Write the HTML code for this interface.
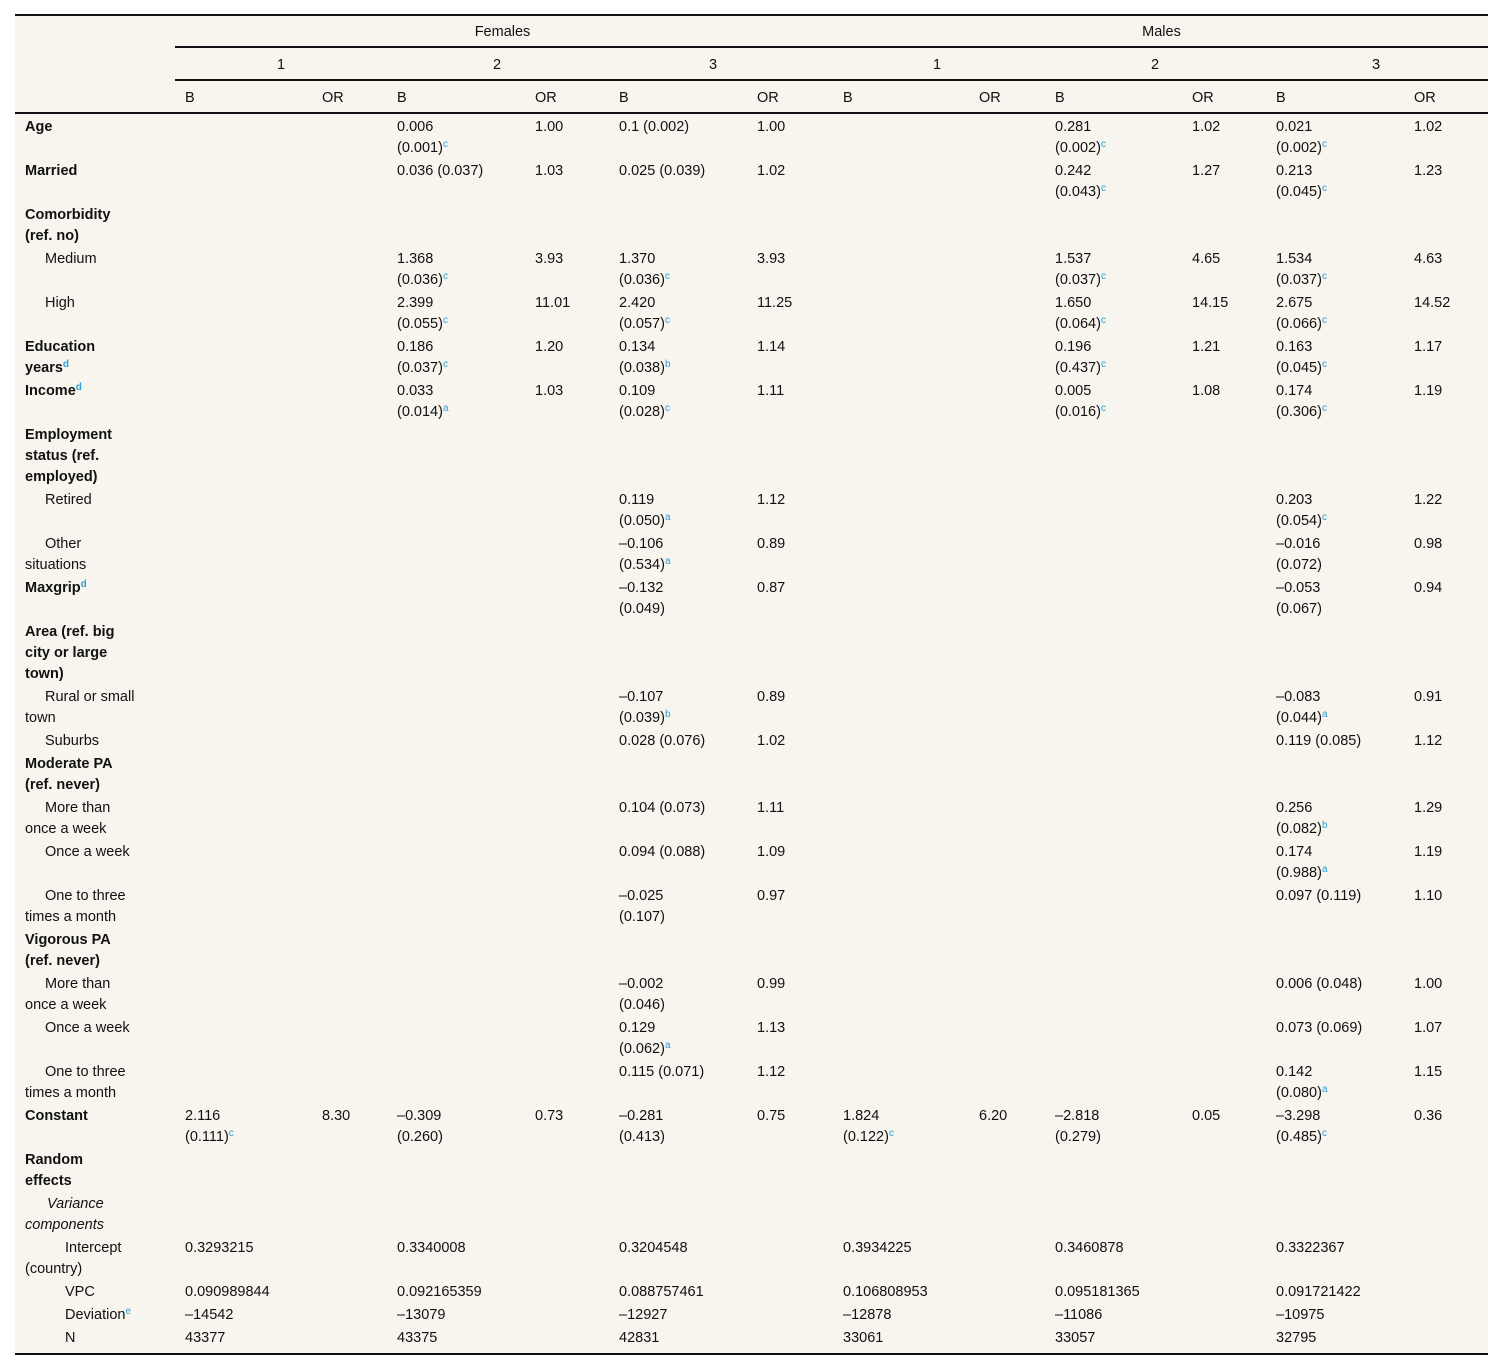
<!DOCTYPE html>
<html><head><meta charset="utf-8">
<style>
html,body{margin:0;padding:0;background:#fff;}
body{width:1488px;height:1370px;position:relative;overflow:hidden;font-family:"Liberation Sans",Arial,sans-serif;font-size:14.5px;color:#111;}
#bg{position:absolute;left:15px;top:15px;width:1473px;height:1339px;background:#f8f5ef;}
.ln{position:absolute;height:1.5px;background:#111;}
.c{position:absolute;line-height:21px;white-space:nowrap;}
.lab{position:absolute;left:25px;width:135px;line-height:21px;white-space:normal;}
.b{font-weight:bold;}
.i1{text-indent:20px;}
.i2{text-indent:40px;}
.it{font-style:italic;text-indent:22px;}
sup{color:#2a9fd8;font-size:10px;vertical-align:5px;line-height:0;}
.hc{position:absolute;line-height:21px;text-align:center;}
</style></head>
<body>
<div id="bg"></div>
<div class="ln" style="left:15px;top:14px;width:1473px"></div>
<div class="ln" style="left:175px;top:46px;width:1313px"></div>
<div class="ln" style="left:175px;top:79px;width:1313px"></div>
<div class="ln" style="left:15px;top:112px;width:1473px"></div>
<div class="ln" style="left:15px;top:1353px;width:1473px"></div>

<div class="hc" style="left:175px;width:655px;top:22px">Females</div>
<div class="hc" style="left:835px;width:653px;top:22px">Males</div>
<div id="root"></div>
<script>
const colX=[185,322,397,535,619,757,843,979,1055,1192,1276,1414];
const modelCenters=[281,497,713,937,1155,1376];
const modelLabels=['1','2','3','1','2','3'];
const rows=[
[126,'Age','b',['','','0.006|(0.001)^c','1.00','0.1 (0.002)','1.00','','','0.281|(0.002)^c','1.02','0.021|(0.002)^c','1.02']],
[170,'Married','b',['','','0.036 (0.037)','1.03','0.025 (0.039)','1.02','','','0.242|(0.043)^c','1.27','0.213|(0.045)^c','1.23']],
[214,'Comorbidity|(ref. no)','b',[]],
[258,'Medium','i1',['','','1.368|(0.036)^c','3.93','1.370|(0.036)^c','3.93','','','1.537|(0.037)^c','4.65','1.534|(0.037)^c','4.63']],
[302,'High','i1',['','','2.399|(0.055)^c','11.01','2.420|(0.057)^c','11.25','','','1.650|(0.064)^c','14.15','2.675|(0.066)^c','14.52']],
[346,'Education|years^d','b',['','','0.186|(0.037)^c','1.20','0.134|(0.038)^b','1.14','','','0.196|(0.437)^c','1.21','0.163|(0.045)^c','1.17']],
[390,'Income^d','b',['','','0.033|(0.014)^a','1.03','0.109|(0.028)^c','1.11','','','0.005|(0.016)^c','1.08','0.174|(0.306)^c','1.19']],
[434,'Employment|status (ref.|employed)','b',[]],
[499,'Retired','i1',['','','','','0.119|(0.050)^a','1.12','','','','','0.203|(0.054)^c','1.22']],
[543,'Other|situations','i1',['','','','','\u20130.106|(0.534)^a','0.89','','','','','\u20130.016|(0.072)','0.98']],
[587,'Maxgrip^d','b',['','','','','\u20130.132|(0.049)','0.87','','','','','\u20130.053|(0.067)','0.94']],
[631,'Area (ref. big|city or large|town)','b',[]],
[696,'Rural or small|town','i1',['','','','','\u20130.107|(0.039)^b','0.89','','','','','\u20130.083|(0.044)^a','0.91']],
[740,'Suburbs','i1',['','','','','0.028 (0.076)','1.02','','','','','0.119 (0.085)','1.12']],
[763,'Moderate PA|(ref. never)','b',[]],
[807,'More than|once a week','i1',['','','','','0.104 (0.073)','1.11','','','','','0.256|(0.082)^b','1.29']],
[851,'Once a week','i1',['','','','','0.094 (0.088)','1.09','','','','','0.174|(0.988)^a','1.19']],
[895,'One to three|times a month','i1',['','','','','\u20130.025|(0.107)','0.97','','','','','0.097 (0.119)','1.10']],
[939,'Vigorous PA|(ref. never)','b',[]],
[983,'More than|once a week','i1',['','','','','\u20130.002|(0.046)','0.99','','','','','0.006 (0.048)','1.00']],
[1027,'Once a week','i1',['','','','','0.129|(0.062)^a','1.13','','','','','0.073 (0.069)','1.07']],
[1071,'One to three|times a month','i1',['','','','','0.115 (0.071)','1.12','','','','','0.142|(0.080)^a','1.15']],
[1115,'Constant','b',['2.116|(0.111)^c','8.30','\u20130.309|(0.260)','0.73','\u20130.281|(0.413)','0.75','1.824|(0.122)^c','6.20','\u20132.818|(0.279)','0.05','\u20133.298|(0.485)^c','0.36']],
[1159,'Random|effects','b',[]],
[1203,'Variance|components','it',[]],
[1247,'Intercept|(country)','i2',['0.3293215','','0.3340008','','0.3204548','','0.3934225','','0.3460878','','0.3322367','']],
[1291,'VPC','i2',['0.090989844','','0.092165359','','0.088757461','','0.106808953','','0.095181365','','0.091721422','']],
[1314,'Deviation^e','i2',['\u201314542','','\u201313079','','\u201312927','','\u201312878','','\u201311086','','\u201310975','']],
[1337,'N','i2',['43377','','43375','','42831','','33061','','33057','','32795','']]
];
function fmt(s){return s.split('|').map(p=>p.replace(/\^([a-e])/g,'<sup>$1</sup>')).join('<br>');}
const root=document.getElementById('root');
modelLabels.forEach((m,i)=>{
  const d=document.createElement('div');d.className='hc';
  d.style.left=(modelCenters[i]-30)+'px';d.style.width='60px';d.style.top='55px';
  d.textContent=m;
  
  
  root.appendChild(d);
});
colX.forEach((x,i)=>{
  const d=document.createElement('div');d.className='c';
  d.style.left=x+'px';d.style.top='88px';
  d.textContent=i%2?'OR':'B';
  
  
  root.appendChild(d);
});
rows.forEach(r=>{
  const top=r[0]-9;
  const l=document.createElement('div');
  l.className='lab '+r[2];l.style.top=top+'px';
  l.innerHTML=fmt(r[1]);
  
  
  root.appendChild(l);
  r[3].forEach((v,i)=>{
    if(!v)return;
    const d=document.createElement('div');d.className='c';
    d.style.left=colX[i]+'px';d.style.top=top+'px';
    d.innerHTML=fmt(v);
    
    
    root.appendChild(d);
  });
});
</script>
</body></html>
